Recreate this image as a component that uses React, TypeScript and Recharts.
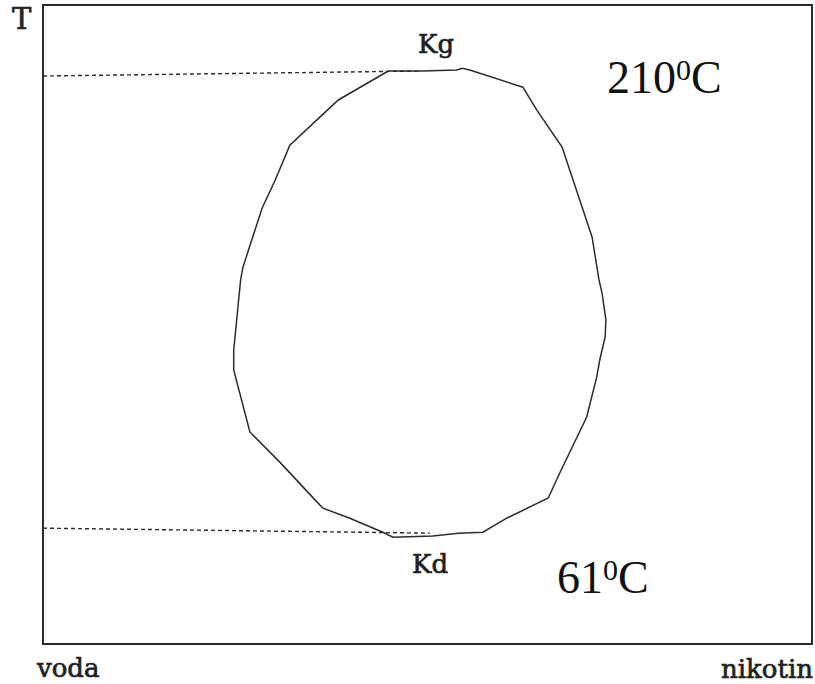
import { LineChart, Line, XAxis, YAxis, ReferenceArea } from 'recharts'

// composition axis: 0 = voda, 100 = nikotin (% nicotine)
// temperature axis in °C, Kg = 210, Kd = 61
const X_DOMAIN: [number, number] = [0, 100]
const T_DOMAIN: [number, number] = [25.7, 230.9]

const gapX = [
  44.9, 49.3, 53.8, 54.5, 55.5, 62.4, 64.2, 67.5, 71.4, 72.3, 72.7, 73.2, 73.1, 72.4,
  72.0, 70.7, 67.2, 65.7, 60.3, 57.2, 54.0, 50.7, 45.5, 44.2, 39.9, 36.4, 35.4, 30.8,
  26.9, 24.8, 24.8, 25.1, 25.4, 25.7, 26.0, 28.5, 30.2, 32.1, 36.0, 38.4, 44.9,
]
const gapT = [
  209.7, 209.7, 210.0, 210.6, 210.0, 204.5, 197.2, 185.3, 156.4, 142.6, 138.4, 129.7,
  124.3, 116.9, 111.4, 98.6, 80.6, 72.6, 66.1, 61.6, 61.3, 60.4, 60.0, 61.6, 66.1, 69.3,
  71.9, 84.1, 93.8, 113.7, 120.1, 127.5, 135.2, 142.6, 146.7, 165.7, 174.7, 185.9, 194.9,
  200.4, 209.7,
]

// dashed guides from the T axis to the critical points
const upperGuideX = [0, 49.0]
const upperGuideT = [208.1, 209.7]
const lowerGuideX = [0, 50.3]
const lowerGuideT = [62.9, 61.3]

const zip = (xs: number[], ts: number[]) => xs.map((x, i) => ({ x, t: ts[i] }))

const gap = zip(gapX, gapT)
const upperGuide = zip(upperGuideX, upperGuideT)
const lowerGuide = zip(lowerGuideX, lowerGuideT)

const INK = '#2b2b2b'
const LABEL_FONT = '"DejaVu Serif", serif'
const BIG_FONT = '"Liberation Serif", "Times New Roman", serif'

export default function App() {
  return (
    <div style={{ position: 'absolute', left: 0, top: 0, width: 815, height: 684, background: '#fff' }}>
      <LineChart width={815} height={684} margin={{ top: 5, right: 3, bottom: 40, left: 43 }}>
        <XAxis dataKey="x" type="number" domain={X_DOMAIN} allowDataOverflow hide />
        <YAxis dataKey="t" type="number" domain={T_DOMAIN} allowDataOverflow hide />
        <ReferenceArea
          x1={X_DOMAIN[0]}
          x2={X_DOMAIN[1]}
          y1={T_DOMAIN[0]}
          y2={T_DOMAIN[1]}
          fill="none"
          stroke={INK}
          strokeWidth={2}
          ifOverflow="visible"
        />
        <Line
          data={upperGuide}
          dataKey="t"
          type="linear"
          stroke={INK}
          strokeWidth={1.4}
          strokeDasharray="4 3"
          dot={false}
          isAnimationActive={false}
        />
        <Line
          data={lowerGuide}
          dataKey="t"
          type="linear"
          stroke={INK}
          strokeWidth={1.4}
          strokeDasharray="4 3"
          dot={false}
          isAnimationActive={false}
        />
        <Line
          data={gap}
          dataKey="t"
          type="linear"
          stroke={INK}
          strokeWidth={1.5}
          dot={false}
          isAnimationActive={false}
        />
      </LineChart>
      <svg width={815} height={684} style={{ position: 'absolute', left: 0, top: 0, pointerEvents: 'none' }}>
        <g fill="#222" stroke="#222" strokeWidth={0.7} fontFamily={LABEL_FONT} fontSize={26}>
          <text x={12} y={29} fontSize={29}>T</text>
          <text x={37} y={677}>voda</text>
          <text x={813} y={678} textAnchor="end">nikotin</text>
          <text x={418} y={53}>Kg</text>
          <text x={412} y={573}>Kd</text>
        </g>
        <g fill="#111" fontFamily={BIG_FONT} fontSize={46}>
          <text x={607} y={93}>
            210<tspan fontSize={30} dy={-13}>0</tspan>
            <tspan dy={13}>C</tspan>
          </text>
          <text x={557} y={593}>
            61<tspan fontSize={30} dy={-13}>0</tspan>
            <tspan dy={13}>C</tspan>
          </text>
        </g>
      </svg>
    </div>
  )
}
